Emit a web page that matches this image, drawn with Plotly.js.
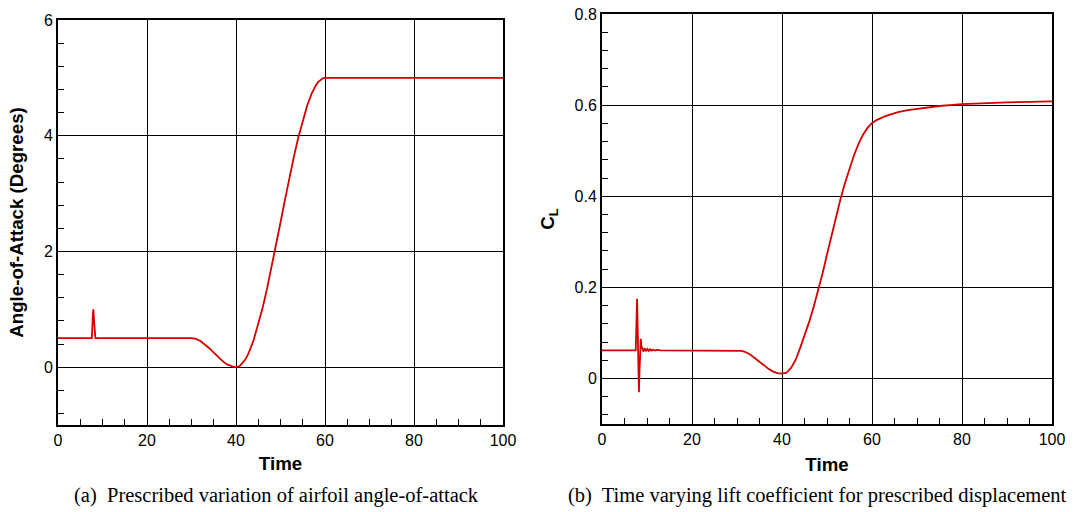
<!DOCTYPE html>
<html>
<head>
<meta charset="utf-8">
<script src="https://cdn.plot.ly/plotly-3.0.1.min.js"></script>
<style>html,body{margin:0;padding:0;background:#fff;}#chart{width:1084px;height:512px;}</style>
</head>
<body>
<div id="chart"></div>
<script>
// (a) prescribed angle-of-attack (degrees) vs time
var aoaTime = [0, 7.6, 7.8, 7.95, 8.1, 8.4, 30, 30.5, 31, 32, 33, 34, 35, 36, 37, 38, 39, 39.5, 40,
  40.5, 41, 41.5, 42, 42.5, 43, 44, 45, 46, 47, 48, 49, 50, 51, 52, 53, 54, 55, 56, 57, 57.5, 58, 58.5, 59, 59.5, 60, 100];
var aoaDeg = [0.5, 0.5, 0.85, 1.0, 0.8, 0.5, 0.5, 0.497, 0.488, 0.452, 0.397, 0.327, 0.25, 0.173, 0.103, 0.048, 0.012, 0.003, 0.0,
  0.008, 0.031, 0.069, 0.122, 0.19, 0.272, 0.477, 0.732, 1.03, 1.365, 1.727, 2.109, 2.5, 2.891, 3.273, 3.635, 3.97, 4.268, 4.523, 4.728, 4.81, 4.878, 4.931, 4.969, 4.992, 5.0, 5.0];

// (b) lift coefficient vs time
var clTime = [0, 7.5, 7.65, 7.8, 7.95, 8.1, 8.2, 8.35, 8.5, 8.62, 8.75, 8.9, 9.2, 9.5, 9.8, 10.1, 10.4, 10.7, 11.0, 11.4, 11.8, 12.2, 13,
  30, 31, 32, 33, 34, 35, 36, 37, 38, 39, 40, 41, 42, 43, 44, 45, 46, 47, 48, 49, 50,
  51, 52, 53, 54, 55, 56, 57, 58, 59, 60, 61, 62, 63, 64, 66, 68, 70, 72, 75, 80, 85, 90, 95, 100];
var clVal = [0.0615, 0.0615, 0.12, 0.175, 0.10, 0.01, -0.03, 0.02, 0.07, 0.087, 0.07, 0.068, 0.059, 0.066, 0.060, 0.065, 0.0605, 0.064, 0.061, 0.063, 0.0612, 0.0625, 0.0615,
  0.0615, 0.0605, 0.0575, 0.052, 0.0445, 0.0365, 0.0285, 0.021, 0.015, 0.0115, 0.0105, 0.0125, 0.023, 0.040, 0.066, 0.093, 0.123, 0.156, 0.191, 0.230, 0.272,
  0.315, 0.356, 0.394, 0.429, 0.461, 0.490, 0.515, 0.535, 0.550, 0.561, 0.567, 0.572, 0.576, 0.579, 0.585, 0.589, 0.592, 0.595, 0.598, 0.602, 0.6045, 0.606, 0.607, 0.608];

var xTickVals = [0, 20, 40, 60, 80, 100];
var captionA = "(a)  Prescribed variation of airfoil angle-of-attack";
var captionB = "(b)  Time varying lift coefficient for prescribed displacement";

var red = "rgb(212,0,0)";
var tickFont = {family: "Liberation Sans, Arial, sans-serif", size: 16, color: "#000"};
var titleFont = {family: "Liberation Sans, Arial, sans-serif", size: 18.7, color: "#000", weight: "bold"};

function axisBase() {
  return {
    showline: true, linecolor: "#000", linewidth: 2, mirror: true,
    showgrid: true, gridcolor: "#000", gridwidth: 1,
    zeroline: false,
    ticks: "inside", ticklen: 6, tickcolor: "#000", tickwidth: 1,
    tickfont: tickFont
  };
}

var xa = Object.assign(axisBase(), {
  domain: [58/1084, 503/1084], range: [0, 100], tickvals: xTickVals, anchor: "y",
  minor: {ticks: "inside", ticklen: 6, dtick: 5, tickcolor: "#000", tickwidth: 1, showgrid: false},
  title: {text: "<b>Time</b>", font: titleFont, standoff: 9}
});
var ya = Object.assign(axisBase(), {
  domain: [1 - 425/512, 1 - 20/512], range: [-1, 6], dtick: 2, tick0: 0, anchor: "x",
  minor: {ticks: "inside", ticklen: 6, dtick: 0.4, tick0: 0, tickcolor: "#000", tickwidth: 1, showgrid: false},
  title: {text: "<b>Angle-of-Attack (Degrees)</b>", font: titleFont, standoff: 15}
});
var xa2 = Object.assign(axisBase(), {
  domain: [602/1084, 1052/1084], range: [0, 100], tickvals: xTickVals, anchor: "y2",
  minor: {ticks: "inside", ticklen: 6, dtick: 5, tickcolor: "#000", tickwidth: 1, showgrid: false},
  title: {text: "<b>Time</b>", font: titleFont, standoff: 11}
});
var ya2 = Object.assign(axisBase(), {
  domain: [1 - 424/512, 1 - 14/512], range: [-0.1, 0.8], dtick: 0.2, tick0: 0, anchor: "x2",
  minor: {ticks: "inside", ticklen: 6, dtick: 0.04, tick0: 0, tickcolor: "#000", tickwidth: 1, showgrid: false},
  title: {text: "<b>C<sub>L</sub></b>", font: titleFont, standoff: 15}
});

var traces = [
  {x: aoaTime, y: aoaDeg, xaxis: "x", yaxis: "y", type: "scatter", mode: "lines",
   line: {color: red, width: 1.8}, hoverinfo: "skip"},
  {x: clTime, y: clVal, xaxis: "x2", yaxis: "y2", type: "scatter", mode: "lines",
   line: {color: red, width: 1.8}, hoverinfo: "skip"}
];

var captionFont = {family: "Liberation Serif, Times New Roman, serif", size: 20.5, color: "#000"};
var layout = {
  width: 1084, height: 512,
  margin: {l: 0, r: 0, t: 0, b: 0},
  paper_bgcolor: "#fff", plot_bgcolor: "#fff",
  showlegend: false,
  xaxis: xa, yaxis: ya, xaxis2: xa2, yaxis2: ya2,
  annotations: [
    {text: captionA, xref: "paper", yref: "paper", x: 276.5/1084, y: 1 - 495/512,
     xanchor: "center", yanchor: "middle", showarrow: false, font: captionFont},
    {text: captionB, xref: "paper", yref: "paper", x: 817.5/1084, y: 1 - 495/512,
     xanchor: "center", yanchor: "middle", showarrow: false, font: captionFont}
  ]
};

Plotly.newPlot("chart", traces, layout, {staticPlot: true, displayModeBar: false});
</script>
</body>
</html>
